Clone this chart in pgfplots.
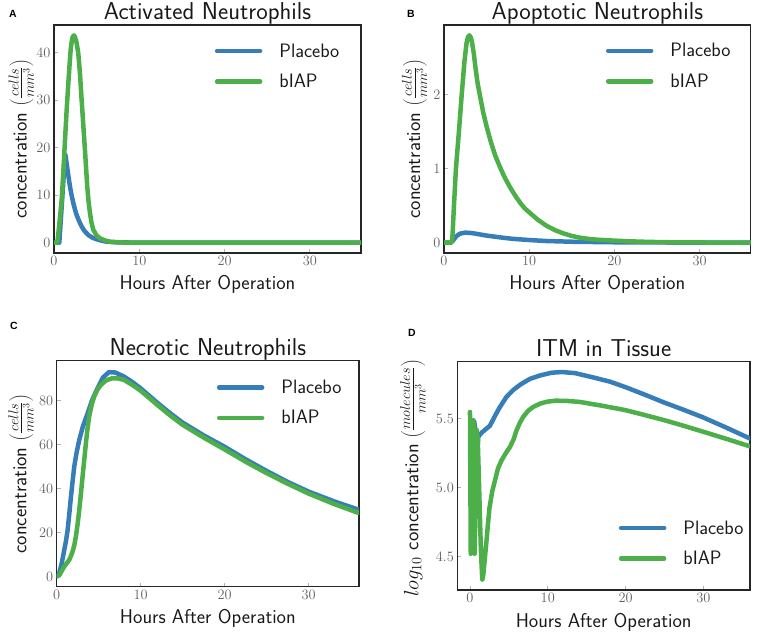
\documentclass[border=0pt]{standalone}
\usepackage{fontspec}
\usepackage{pgfplots}
\pgfplotsset{compat=1.18}
\newfontfamily\arialfont{Liberation Sans}
\definecolor{pblue}{HTML}{377EB8}
\definecolor{pgreen}{HTML}{4DAF4A}
\pgfplotsset{
  every axis title/.style={at={(0.5,1)}, anchor=base, yshift=5.5bp, font=\sffamily\fontsize{24.5}{24.5}\selectfont, text=black!90},
  every axis x label/.style={at={(axis description cs:0.5,0)}, anchor=base, yshift=-37bp, font=\sffamily\fontsize{20}{20}\selectfont, text=black!90},
  every axis y label/.style={rotate=90, anchor=base, font=\sffamily\fontsize{20}{20}\selectfont, text=black!90},
  panel/.style={
    scale only axis, anchor=south west,
    xmin=0, xmax=36, xtick={0,10,20,30},
    axis line style={black!85, line width=1.5bp},
    tick align=inside, xtick pos=left, ytick pos=left,
    major tick length=4bp,
    tick style={gray!60, line width=0.8bp},
    ticklabel style={font=\fontsize{15}{15}\selectfont, text=black!62},
    xlabel={Hours After Operation},
    every axis plot/.append style={line width=4.5bp, line cap=round, line join=round, no marks},
    legend cell align=left,
    legend image code/.code={\draw[##1] (0bp,0bp) -- (43bp,0bp);},
    legend style={draw=none, fill=none, inner sep=0pt, outer sep=0pt, anchor=west,
      font=\sffamily\fontsize{19.5}{19.5}\selectfont, text=black!90,
      nodes={inner sep=2bp}, row sep=11.5bp, column sep=15bp},
  }
}
\begin{document}
\begin{tikzpicture}
\useasboundingbox (0,0) rectangle (767bp,634bp);
% ---------------- A
\begin{axis}[panel, at={(54bp,381bp)}, width=307bp, height=228bp,
  ymin=-2.18, ymax=45.8, ytick={0,10,20,30,40},
  title={Activated Neutrophils},
  ylabel={concentration $\left(\frac{cells}{mm^3}\right)$},
  ylabel style={at={(axis description cs:-0.089,0.5)}},
  legend style={at={(axis description cs:0.524,0.818)}}]
\addplot[pblue] coordinates {(0,0) (0.62,0) (0.75,3.5) (0.9,7.5) (1.1,13) (1.22,17) (1.29,18.6) (1.36,18.2) (1.48,16.7) (1.68,14.1) (1.875,11.8) (2.07,9.9) (2.27,8.3) (2.46,6.95) (2.66,5.8) (2.95,4.5) (3.24,3.4) (3.6,2.4) (4.02,1.6) (4.5,1.05) (5.0,0.7) (5.6,0.4) (6.17,0.2) (7,0.09) (8,0.04) (10,0.01) (36,0)};
\addplot[pgreen] coordinates {(0,0) (0.39,0) (0.6,3.5) (0.9,9) (1.1,15) (1.29,21.6) (1.48,27.8) (1.68,33.5) (1.82,37.3) (1.95,40.5) (2.05,42) (2.15,43) (2.25,43.5) (2.34,43.6) (2.45,43.3) (2.6,42.5) (2.72,41.3) (2.85,39.8) (3.05,35.5) (3.24,30) (3.44,24.6) (3.63,19.5) (3.77,15.5) (3.9,11.8) (4.05,8.7) (4.22,6.2) (4.4,4.2) (4.61,2.7) (5.0,1.5) (5.4,0.9) (6,0.45) (6.56,0.2) (8,0.03) (10,0) (36,0)};
\legend{Placebo, bIAP}
\end{axis}
% ---------------- B
\begin{axis}[panel, at={(444bp,381bp)}, width=306.7bp, height=228bp,
  ymin=-0.14, ymax=2.94, ytick={0,1,2},
  title={Apoptotic Neutrophils},
  ylabel={concentration $\left(\frac{cells}{mm^3}\right)$},
  ylabel style={at={(axis description cs:-0.078,0.5)}},
  legend style={at={(axis description cs:0.528,0.82)}}]
\addplot[pblue] coordinates {(0,0) (0.8,0) (1.0,0.02) (1.2,0.05) (1.4,0.08) (1.6,0.10) (1.8,0.115) (2.0,0.125) (2.5,0.135) (3.0,0.132) (3.5,0.125) (4.0,0.115) (5.0,0.095) (6,0.08) (7,0.065) (8,0.052) (10,0.035) (12,0.022) (15,0.012) (20,0.005) (25,0.002) (36,0)};
\addplot[pgreen] coordinates {(0,0) (0.9,0) (1.0,0.1) (1.17,0.5) (1.4,1.0) (1.75,1.5) (2.08,2.0) (2.4,2.45) (2.65,2.7) (2.82,2.78) (2.98,2.80) (3.15,2.77) (3.3,2.7) (3.5,2.55) (3.7,2.36) (3.95,2.15) (4.23,1.98) (4.6,1.76) (5.0,1.57) (5.5,1.36) (6.0,1.18) (6.5,1.04) (7.0,0.91) (7.5,0.80) (8.0,0.70) (8.5,0.61) (9.0,0.53) (9.5,0.46) (10.1,0.40) (11,0.31) (12,0.23) (13,0.17) (14,0.125) (15,0.09) (16,0.066) (17,0.05) (18,0.04) (19,0.033) (20,0.027) (22,0.017) (24,0.01) (27,0.004) (30,0.002) (36,0)};
\legend{Placebo, bIAP}
\end{axis}
% ---------------- C
\begin{axis}[panel, at={(56.7bp,47.3bp)}, width=302.3bp, height=226bp,
  ymin=-4.7, ymax=98.2, ytick={0,20,40,60,80},
  title={Necrotic Neutrophils},
  ylabel={concentration $\left(\frac{cells}{mm^3}\right)$},
  ylabel style={at={(axis description cs:-0.1,0.5)}},
  legend style={at={(axis description cs:0.53,0.814)}}]
\addplot[pblue] coordinates {(0,0) (0.31,1.5) (0.6,6) (0.9,12) (1.1,16) (1.3,21) (1.5,28.5) (1.69,36) (1.9,43.5) (2.09,50) (2.35,56) (2.68,62) (3.1,68) (3.66,74) (4.2,80) (4.84,85.5) (5.5,90.5) (6.22,93) (7,92.8) (8,91) (9,88.5) (10,85.6) (11,82.3) (12,79) (13.5,74.3) (15,70) (17.5,64.2) (20,59) (22.5,53.3) (25,48) (27.5,43) (30,38.6) (33,34.2) (36,30.3)};
\addplot[pgreen] coordinates {(0,0) (0.31,0.5) (0.6,2.5) (0.9,4.5) (1.2,6) (1.5,7.6) (1.7,9.3) (1.9,11.4) (2.1,14.3) (2.28,18) (2.48,23.5) (2.68,30) (2.88,37.5) (3.07,45) (3.27,52.7) (3.46,60) (3.66,67) (3.86,72.7) (4.15,77.8) (4.45,81.8) (4.85,85) (5.24,87.1) (5.9,89.3) (6.6,90.2) (7.3,90.1) (8,89.5) (9,87.2) (10,84.5) (11,81.3) (12,78) (13.5,73.3) (15,69) (17.5,63.2) (20,57.8) (22.5,52.2) (25,47) (27.5,42.2) (30,37.7) (33,33) (36,28.8)};
\legend{Placebo, bIAP}
\end{axis}
% ---------------- D
\begin{axis}[panel, at={(457.3bp,44bp)}, width=292.7bp, height=228.3bp,
  xmin=-1.63, xmax=36,
  ymin=4.257, ymax=5.915, ytick={4.5,5.0,5.5},
  yticklabel style={/pgf/number format/fixed, /pgf/number format/fixed zerofill, /pgf/number format/precision=1},
  title={ITM in Tissue},
  ylabel={$log_{10}$ concentration $\left(\frac{molecules}{mm^3}\right)$},
  ylabel style={at={(axis description cs:-0.133,0.49)}},
  legend style={at={(axis description cs:0.552,0.2045)}}]
\addplot[pblue] coordinates {(0.55,5.48) (0.62,5.45) (0.95,5.27) (1.07,5.37) (1.5,5.40) (2.14,5.43) (2.57,5.45) (3.2,5.52) (3.86,5.587) (4.7,5.66) (5.57,5.71) (6.5,5.75) (7.7,5.79) (9,5.815) (10.5,5.835) (11.8,5.84) (13.5,5.832) (15.9,5.80) (18,5.77) (20,5.73) (22.5,5.675) (24.9,5.62) (27.5,5.565) (30,5.51) (33,5.435) (36,5.357)};
\addplot[pgreen] coordinates {(0,5.55) (0.1,4.52) (0.45,5.49) (0.6,4.52) (0.85,5.42) (1.0,5.35) (1.2,4.95) (1.4,4.55) (1.58,4.33) (1.7,4.36) (1.8,4.42) (1.95,4.51) (2.1,4.6) (2.3,4.73) (2.5,4.85) (2.85,4.97) (3.2,5.05) (3.6,5.14) (4.07,5.2) (4.6,5.25) (5.14,5.296) (5.6,5.35) (6,5.418) (6.4,5.47) (6.85,5.515) (7.5,5.56) (8.14,5.587) (9,5.61) (9.86,5.624) (11,5.632) (12.5,5.63) (14.1,5.623) (17,5.595) (20,5.563) (22.5,5.527) (25,5.49) (27.5,5.449) (30,5.406) (33,5.354) (36,5.30)};
\legend{Placebo, bIAP}
\end{axis}
% panel letters
\node[anchor=base west, inner sep=0pt, font=\arialfont\bfseries\fontsize{10.5}{10.5}\selectfont] at (9bp,616.7bp) {A};
\node[anchor=base west, inner sep=0pt, font=\arialfont\bfseries\fontsize{10.5}{10.5}\selectfont] at (407bp,616.7bp) {B};
\node[anchor=base west, inner sep=0pt, font=\arialfont\bfseries\fontsize{10.5}{10.5}\selectfont] at (10bp,304bp) {C};
\node[anchor=base west, inner sep=0pt, font=\arialfont\bfseries\fontsize{10.5}{10.5}\selectfont] at (408bp,297.3bp) {D};
\end{tikzpicture}
\end{document}
